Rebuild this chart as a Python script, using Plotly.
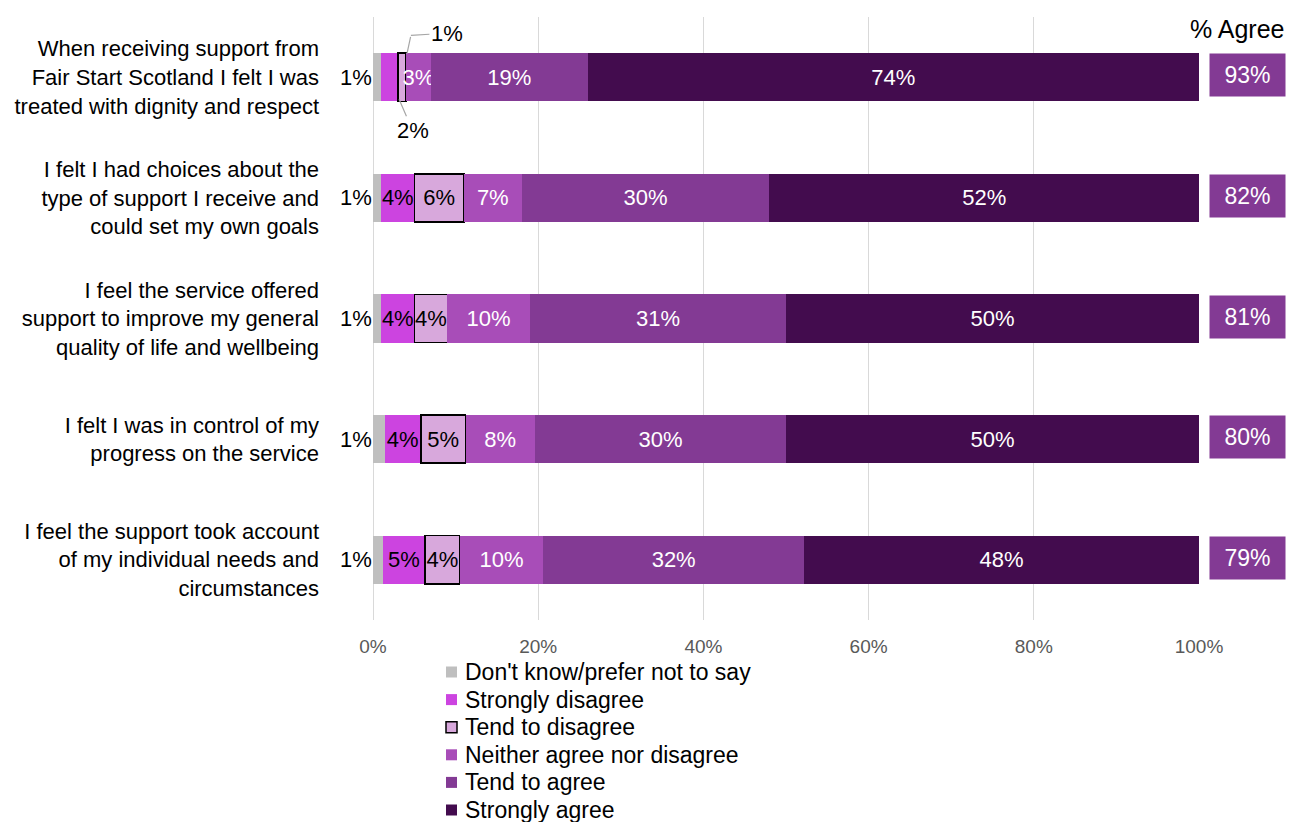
import plotly.graph_objects as go

# Survey statements (top to bottom)
statements = [
    "When receiving support from<br>Fair Start Scotland I felt I was<br>treated with dignity and respect",
    "I felt I had choices about the<br>type of support I receive and<br>could set my own goals",
    "I feel the service offered<br>support to improve my general<br>quality of life and wellbeing",
    "I felt I was in control of my<br>progress on the service",
    "I feel the support took account<br>of my individual needs and<br>circumstances",
]

# Response shares (%), one list per answer
dont_know = [1.0, 1.0, 1.0, 1.4, 1.2]
strongly_disagree = [2.0, 4.0, 4.0, 4.4, 5.1]
tend_disagree = [1.0, 6.0, 4.0, 5.4, 4.2]
neither = [3.0, 7.0, 10.0, 8.4, 10.1]
tend_agree = [19.0, 30.0, 31.0, 30.4, 31.6]
strongly_agree = [74.0, 52.0, 50.0, 50.0, 47.8]

pct_agree = [93, 82, 81, 80, 79]

series = [
    ("Don't know/prefer not to say", dont_know, "#BFBFBF", None),
    ("Strongly disagree", strongly_disagree, "#CC44E0", "black"),
    ("Tend to disagree", tend_disagree, "#D8A8DC", "black"),
    ("Neither agree nor disagree", neither, "#A84DB8", "white"),
    ("Tend to agree", tend_agree, "#833A94", "white"),
    ("Strongly agree", strongly_agree, "#430C4E", "white"),
]

FONT = "Liberation Sans, Arial, sans-serif"

# plot area in pixels (used for the hand-made legend below the chart)
L, R, T, B = 373, 92, 17, 202
W, H = 1291, 822
PW, PH = W - L - R, H - T - B


def px_to_paper(px, py):
    return (px - L) / PW, (H - B - py) / PH


fig = go.Figure()
for name, vals, color, tcolor in series:
    if tcolor is None:
        texts = [""] * len(vals)
    else:
        texts = [f"{v:.0f}%" for v in vals]
    # the first statement's two small disagree segments are labelled with callouts
    if name in ("Strongly disagree", "Tend to disagree"):
        texts[0] = ""
    outlined = name == "Tend to disagree"
    fig.add_trace(go.Bar(
        y=statements,
        x=vals,
        name=name,
        orientation="h",
        marker=dict(
            color=color,
            line=dict(color="black" if outlined else color, width=1.5 if outlined else 0),
        ),
        text=texts,
        textposition="inside",
        insidetextanchor="middle",
        textangle=0,
        constraintext="none",
        textfont=dict(family=FONT, size=22, color=tcolor or "black"),
        hoverinfo="x+name",
        showlegend=False,
    ))

annotations = []
shapes = []

# "Don't know" shares shown to the left of the bars
for s, v in zip(statements, dont_know):
    annotations.append(dict(
        x=0, y=s, xref="x", yref="y", text=f"{v:.0f}%", showarrow=False,
        xanchor="right", xshift=1, font=dict(family=FONT, size=22, color="black"),
    ))

# callouts for the narrow segments of the first statement
td_mid = dont_know[0] + strongly_disagree[0] + tend_disagree[0] / 2
sd_mid = dont_know[0] + strongly_disagree[0] / 2
LEADER = "#A6A6A6"
annotations.append(dict(   # vertical part of the leader above the bar
    x=td_mid, y=statements[0], xref="x", yref="y", text="",
    showarrow=True, arrowhead=0, arrowwidth=1.2, arrowcolor=LEADER,
    ax=9, ay=-42, standoff=24,
))
annotations.append(dict(   # label with horizontal leader
    x=td_mid, y=statements[0], xref="x", yref="y", xshift=9, yshift=42,
    text=f"{tend_disagree[0]:.0f}%", showarrow=True, arrowhead=0, arrowwidth=1.2,
    arrowcolor=LEADER, ax=36, ay=-2, standoff=0,
    font=dict(family=FONT, size=22, color="black"),
))
annotations.append(dict(
    x=sd_mid, y=statements[0], xref="x", yref="y",
    text=f"{strongly_disagree[0]:.0f}%", showarrow=True, arrowhead=0, arrowwidth=1.2,
    arrowcolor=LEADER, ax=23, ay=53, standoff=24,
    font=dict(family=FONT, size=22, color="black"),
))

# % Agree column
hx, hy = px_to_paper(1287, 29)
annotations.append(dict(
    x=hx, y=hy, xref="paper", yref="paper", text="% Agree", showarrow=False,
    xanchor="right", yanchor="middle", font=dict(family=FONT, size=25, color="black"),
))
bx, _ = px_to_paper(1247.5, 0)
for s, a in zip(statements, pct_agree):
    annotations.append(dict(
        x=bx, y=s, xref="paper", yref="y", text=f"{a}%", showarrow=False,
        xanchor="center", yanchor="middle", bgcolor="#833A94", yshift=2,
        width=71, height=38, borderpad=2,
        font=dict(family=FONT, size=23, color="white"),
    ))

# legend below the axis
for i, (name, _, color, _) in enumerate(series):
    cy = 672 + 27.6 * i
    x0, y0 = px_to_paper(446, cy + 5.5)
    x1, y1 = px_to_paper(457, cy - 5.5)
    outlined = name == "Tend to disagree"
    shapes.append(dict(
        type="rect", xref="paper", yref="paper", x0=x0, x1=x1, y0=y0, y1=y1,
        fillcolor=color,
        line=dict(color="black" if outlined else color, width=1.5 if outlined else 0),
        layer="above",
    ))
    tx, ty = px_to_paper(463, cy)
    annotations.append(dict(
        x=tx, y=ty, xref="paper", yref="paper", text=name, showarrow=False,
        xanchor="left", yanchor="middle", font=dict(family=FONT, size=23, color="black"),
    ))

fig.update_layout(
    width=W, height=H,
    margin=dict(l=L, r=R, t=T, b=B),
    barmode="stack",
    bargap=0.6,
    plot_bgcolor="white",
    paper_bgcolor="white",
    font=dict(family=FONT, size=22, color="black"),
    showlegend=False,
    annotations=annotations,
    shapes=shapes,
)
fig.update_xaxes(
    range=[0, 100], dtick=20, ticksuffix="%",
    showgrid=True, gridcolor="#D9D9D9", gridwidth=1,
    zeroline=True, zerolinecolor="#D9D9D9", zerolinewidth=1,
    showline=False, automargin=False,
    tickfont=dict(family=FONT, size=19, color="#595959"),
    ticklabelstandoff=13,
)
fig.update_yaxes(
    categoryorder="array", categoryarray=statements,
    range=[len(statements) - 0.5, -0.5], autorange=False,
    showgrid=False, showline=False, ticks="", automargin=False,
    tickfont=dict(family=FONT, size=22, color="black"),
    ticklabelstandoff=53,
)

fig.write_html("out.html")
